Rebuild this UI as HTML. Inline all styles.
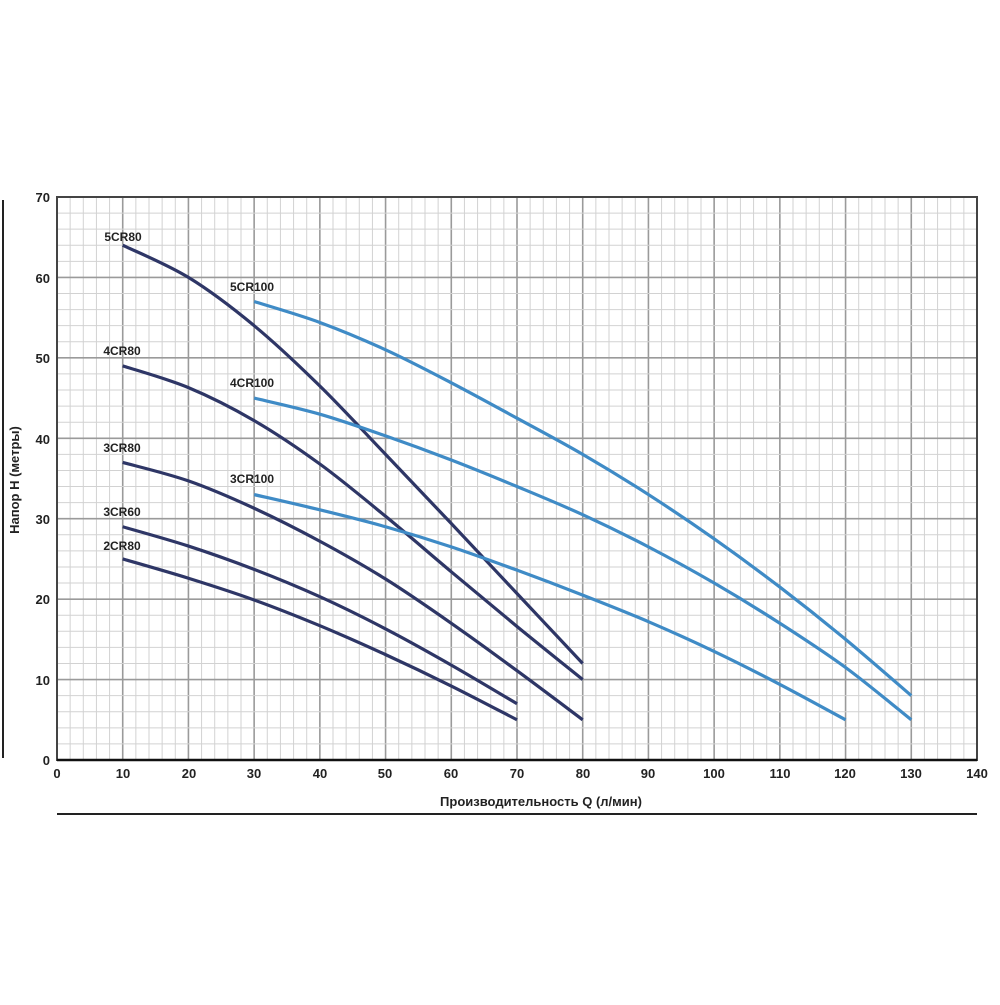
<!DOCTYPE html>
<html><head><meta charset="utf-8"><style>
html,body{margin:0;padding:0;background:#fff;}
svg text{font-family:"Liberation Sans",sans-serif;font-weight:bold;fill:#222;}
</style></head><body>
<svg id="s" width="1000" height="1000" viewBox="0 0 1000 1000" xmlns="http://www.w3.org/2000/svg">
<rect width="1000" height="1000" fill="#fff"/>
<g id="grid"></g>
<rect x="57" y="197" width="920" height="563" fill="none" stroke="#444" stroke-width="2"/>
<line x1="57" y1="760" x2="977" y2="760" stroke="#111" stroke-width="2.5"/>
<line x1="3" y1="200" x2="3" y2="758" stroke="#222" stroke-width="2"/>
<line x1="57" y1="814" x2="977" y2="814" stroke="#222" stroke-width="2"/>
<g id="curves"></g>
<g font-size="13" text-anchor="end">
<text x="50" y="202">70</text><text x="50" y="283">60</text><text x="50" y="363">50</text>
<text x="50" y="444">40</text><text x="50" y="524">30</text><text x="50" y="604">20</text>
<text x="50" y="685">10</text><text x="50" y="765">0</text>
</g>
<g font-size="13" text-anchor="middle">
<text x="57" y="778">0</text><text x="123" y="778">10</text><text x="189" y="778">20</text>
<text x="254" y="778">30</text><text x="320" y="778">40</text><text x="385" y="778">50</text>
<text x="451" y="778">60</text><text x="517" y="778">70</text><text x="583" y="778">80</text>
<text x="648" y="778">90</text><text x="714" y="778">100</text><text x="780" y="778">110</text>
<text x="845" y="778">120</text><text x="911" y="778">130</text><text x="977" y="778">140</text>
</g>
<text x="541" y="806" font-size="13" text-anchor="middle">Производительность Q (л/мин)</text>
<text transform="translate(19,480) rotate(-90)" font-size="13" text-anchor="middle">Напор H (метры)</text>
<g font-size="12" text-anchor="middle">
<text x="123" y="241">5CR80</text><text x="122" y="355">4CR80</text>
<text x="122" y="452">3CR80</text><text x="122" y="516">3CR60</text>
<text x="122" y="550">2CR80</text>
<text x="252" y="291">5CR100</text><text x="252" y="387">4CR100</text>
<text x="252" y="483">3CR100</text>
</g>
</svg>
<script>
var X=function(q){return 57+q*6.5714},Y=function(h){return 760-h*8.043};
var g=document.getElementById('grid'),s='';
for(var q=2;q<140;q+=2){var maj=q%10==0;s+='<line x1="'+X(q)+'" y1="197" x2="'+X(q)+'" y2="760" stroke="'+(maj?'#9a9a9a':'#d2d2d2')+'" stroke-width="'+(maj?1.6:1)+'"/>';}
for(var h=2;h<70;h+=2){var maj=h%10==0;s+='<line x1="57" y1="'+Y(h)+'" x2="977" y2="'+Y(h)+'" stroke="'+(maj?'#9a9a9a':'#d2d2d2')+'" stroke-width="'+(maj?1.6:1)+'"/>';}
g.innerHTML=s;
var N='#2e3666',B='#3f8bc6';
var C=[[N,[[10,64],[20,60],[30,54],[40,46.5],[50,38],[60,29.4],[70,20.7],[80,12]]],
[N,[[10,49],[20,46.3],[30,42.2],[40,36.8],[50,30.3],[60,23.4],[70,16.6],[80,10]]],
[N,[[10,37],[20,34.7],[30,31.3],[40,27.2],[50,22.5],[60,17],[70,11.1],[80,5]]],
[N,[[10,29],[20,26.6],[30,23.7],[40,20.3],[50,16.3],[60,11.8],[70,7]]],
[N,[[10,25],[20,22.6],[30,19.9],[40,16.7],[50,13.1],[60,9.2],[70,5]]],
[B,[[30,57],[40,54.4],[50,51],[60,46.9],[70,42.5],[80,38],[90,33],[100,27.5],[110,21.5],[120,15],[130,8]]],
[B,[[30,45],[40,43],[50,40.3],[60,37.3],[70,34],[80,30.5],[90,26.5],[100,22],[110,17],[120,11.5],[130,5]]],
[B,[[30,33],[40,31.1],[50,29],[60,26.5],[70,23.6],[80,20.5],[90,17.2],[100,13.5],[110,9.4],[120,5]]]];
var out='';
C.forEach(function(c){var p=c[1].map(function(a){return[X(a[0]),Y(a[1])]});
var d='M'+p[0][0]+' '+p[0][1];
for(var i=0;i<p.length-1;i++){var p0=p[i-1]||p[i],p1=p[i],p2=p[i+1],p3=p[i+2]||p2;
d+=' C'+(p1[0]+(p2[0]-p0[0])/6)+' '+(p1[1]+(p2[1]-p0[1])/6)+' '+(p2[0]-(p3[0]-p1[0])/6)+' '+(p2[1]-(p3[1]-p1[1])/6)+' '+p2[0]+' '+p2[1];}
out+='<path d="'+d+'" fill="none" stroke="'+c[0]+'" stroke-width="3.2"/>';});
document.getElementById('curves').innerHTML=out;
</script>
</body></html>
